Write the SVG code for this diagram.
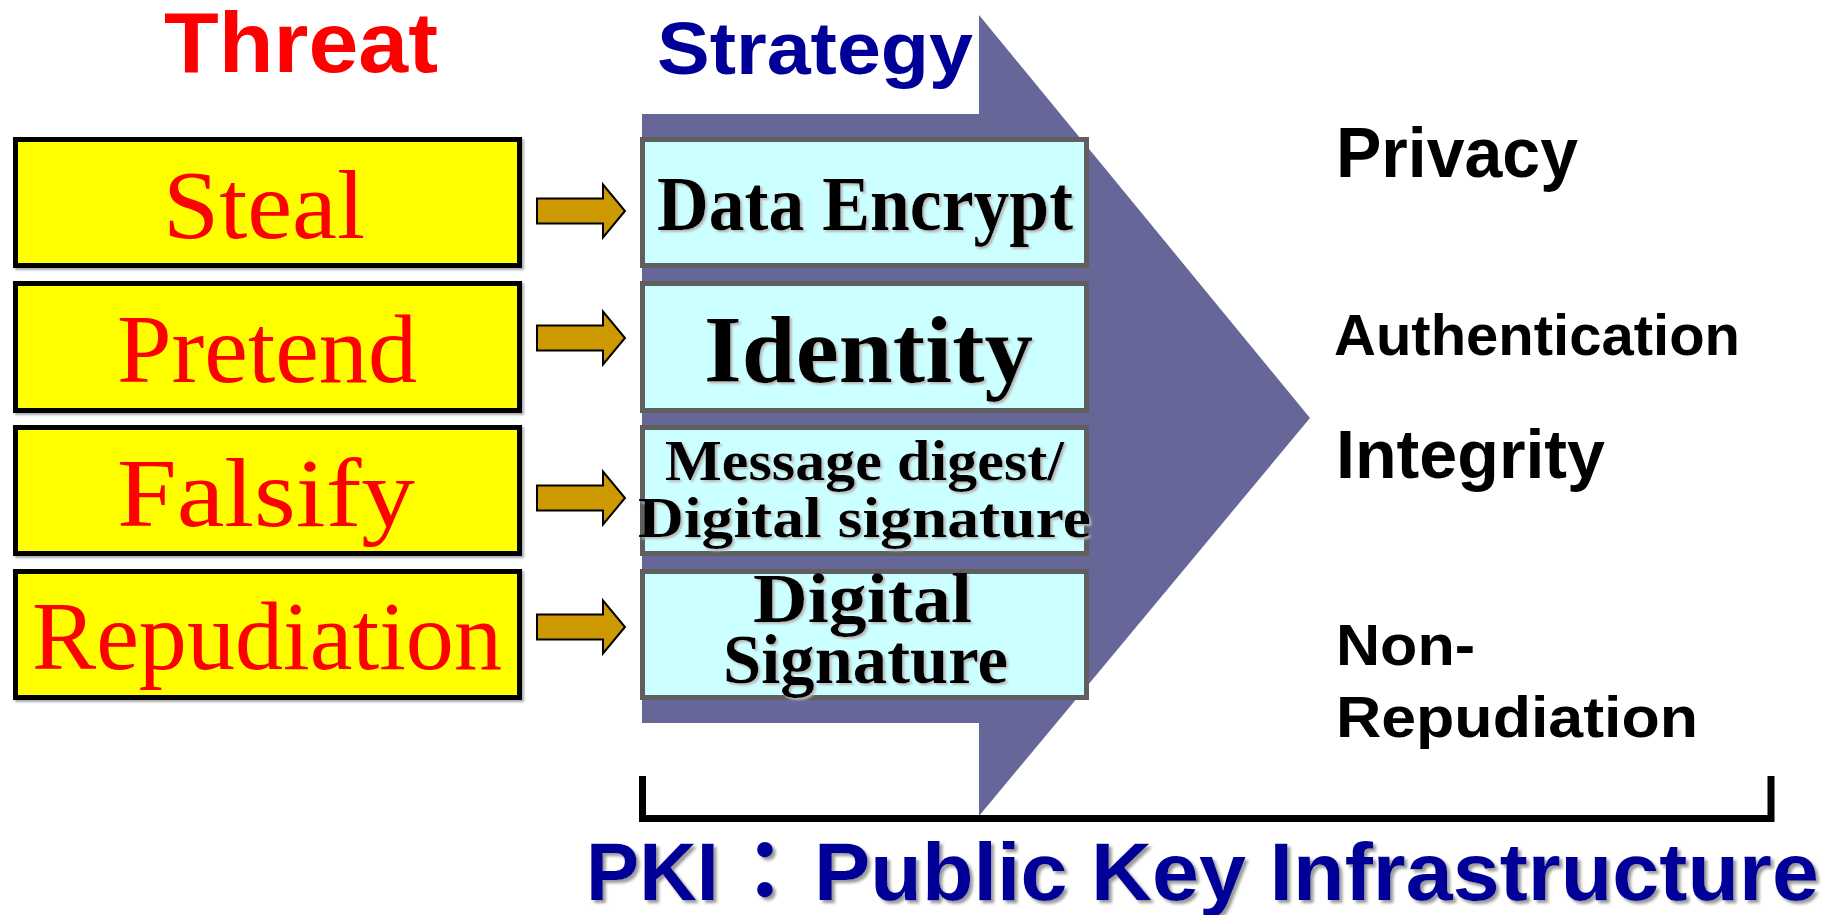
<svg xmlns="http://www.w3.org/2000/svg" width="1837" height="915" viewBox="0 0 1837 915">
  <defs>
    <style>
      .threat rect { fill: #FFFF00; stroke: #000; stroke-width: 5; filter: url(#boxShadow); }
      .threat text { font-family: "Liberation Serif", serif; fill: #FF0000; font-size: 98px; }
      .strat rect { fill: #CCFFFF; stroke: #5F5F5F; stroke-width: 5; }
      .strat text { font-family: "Liberation Serif", serif; font-weight: bold; fill: #000; filter: url(#textShadow); }
      .goal { font-family: "Liberation Sans", sans-serif; font-weight: bold; fill: #000; }
      .head { font-family: "Liberation Sans", "Noto Sans CJK TC", sans-serif; font-weight: bold; }
      .pki { fill: #000099; font-size: 82px; filter: url(#titleShadow); }
      .link { fill: #CC9900; stroke: #000; stroke-width: 2; stroke-linejoin: miter; }
    </style>
    <filter id="textShadow" x="-5%" y="-20%" width="110%" height="140%">
      <feDropShadow dx="2" dy="2" stdDeviation="1" flood-color="#b8b8b8"/>
    </filter>
    <filter id="boxShadow" x="-2%" y="-5%" width="104%" height="110%">
      <feDropShadow dx="2" dy="2" stdDeviation="0.8" flood-color="#aaaaaa"/>
    </filter>
    <filter id="titleShadow" x="-5%" y="-10%" width="110%" height="130%">
      <feDropShadow dx="3" dy="3" stdDeviation="1.5" flood-color="#9a9a9a"/>
    </filter>
    <!-- small block arrow, centred on y = 0 -->
    <path id="blockArrow" class="link" d="M537,-12.5 H603 V-26.5 L625,0 L603,26.5 V12.5 H537 Z"/>
  </defs>

  <rect width="1837" height="915" fill="#FFFFFF"/>

  <!-- large chevron behind the strategy column -->
  <g id="pipeline">
    <polygon points="642,114 979,114 979,15 1310,418 979,816 979,723 642,723" fill="#666699"/>
  </g>

  <!-- column headings -->
  <text class="head" x="164" y="72" font-size="85" fill="#FF0000" textLength="274" lengthAdjust="spacingAndGlyphs">Threat</text>
  <text class="head" x="657" y="74" font-size="74" fill="#000099" textLength="316" lengthAdjust="spacingAndGlyphs">Strategy</text>

  <!-- threats -->
  <g id="threat-steal" class="threat">
    <rect x="15.5" y="139.5" width="504" height="126"/>
    <text x="163" y="238" textLength="202" lengthAdjust="spacingAndGlyphs">Steal</text>
  </g>
  <g id="threat-pretend" class="threat">
    <rect x="15.5" y="283.5" width="504" height="127"/>
    <text x="117" y="382" textLength="300" lengthAdjust="spacingAndGlyphs">Pretend</text>
  </g>
  <g id="threat-falsify" class="threat">
    <rect x="15.5" y="427.5" width="504" height="126"/>
    <text x="117" y="526" textLength="298" lengthAdjust="spacingAndGlyphs">Falsify</text>
  </g>
  <g id="threat-repudiation" class="threat">
    <rect x="15.5" y="571.5" width="504" height="126"/>
    <text x="32" y="669" textLength="470" lengthAdjust="spacingAndGlyphs">Repudiation</text>
  </g>

  <!-- strategies -->
  <g id="strategy-encrypt" class="strat">
    <rect x="642.5" y="139.5" width="444" height="126"/>
    <text x="657" y="230" font-size="78" textLength="416" lengthAdjust="spacingAndGlyphs">Data Encrypt</text>
  </g>
  <g id="strategy-identity" class="strat">
    <rect x="642.5" y="283.5" width="444" height="127"/>
    <text x="704" y="382" font-size="96" textLength="329" lengthAdjust="spacingAndGlyphs">Identity</text>
  </g>
  <g id="strategy-digest" class="strat">
    <rect x="642.5" y="427.5" width="444" height="126"/>
    <text x="665" y="480" font-size="58" textLength="399" lengthAdjust="spacingAndGlyphs">Message digest/</text>
    <text x="638" y="537" font-size="58" textLength="453" lengthAdjust="spacingAndGlyphs">Digital signature</text>
  </g>
  <g id="strategy-signature" class="strat">
    <rect x="642.5" y="571.5" width="444" height="126"/>
    <text x="753" y="622" font-size="70" textLength="219" lengthAdjust="spacingAndGlyphs">Digital</text>
    <text x="723" y="683" font-size="70" textLength="285" lengthAdjust="spacingAndGlyphs">Signature</text>
  </g>

  <!-- threat to strategy arrows -->
  <g id="connectors">
    <use href="#blockArrow" y="211"/>
    <use href="#blockArrow" y="338"/>
    <use href="#blockArrow" y="498"/>
    <use href="#blockArrow" y="627"/>
  </g>

  <!-- security goals -->
  <g id="goal-privacy">
    <text class="goal" x="1336" y="177" font-size="70" textLength="242" lengthAdjust="spacingAndGlyphs">Privacy</text>
  </g>
  <g id="goal-authentication">
    <text class="goal" x="1334" y="355" font-size="58" textLength="406" lengthAdjust="spacingAndGlyphs">Authentication</text>
  </g>
  <g id="goal-integrity">
    <text class="goal" x="1336" y="478" font-size="69" textLength="269" lengthAdjust="spacingAndGlyphs">Integrity</text>
  </g>
  <g id="goal-nonrepudiation">
    <text class="goal" x="1336" y="665" font-size="57" textLength="139" lengthAdjust="spacingAndGlyphs">Non-</text>
    <text class="goal" x="1336" y="737" font-size="57" textLength="362" lengthAdjust="spacingAndGlyphs">Repudiation</text>
  </g>

  <!-- bracket spanning the PKI scope -->
  <g id="pki-bracket">
    <path d="M642.5,776 V818.5 H1771 V776" fill="none" stroke="#000" stroke-width="7"/>
  </g>
  <g id="pki-label" class="head">
    <text class="pki" x="586" y="900" textLength="133" lengthAdjust="spacingAndGlyphs">PKI</text>
    <text class="pki" x="765" y="900" text-anchor="middle">：</text>
    <text class="pki" x="814" y="900" textLength="1005" lengthAdjust="spacingAndGlyphs">Public Key Infrastructure</text>
  </g>
</svg>
